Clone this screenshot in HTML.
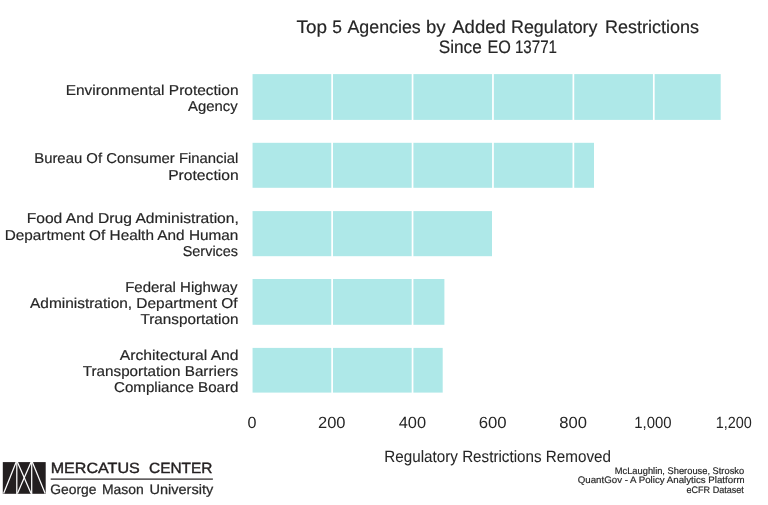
<!DOCTYPE html>
<html lang="en"><head><meta charset="utf-8"><title>Top 5 Agencies by Added Regulatory Restrictions Since EO 13771</title>
<style>
html,body{margin:0;padding:0;background:#fff;}
body{width:768px;height:505px;overflow:hidden;}
svg{display:block;}
text{font-family:"Liberation Sans", sans-serif;fill:#262626;stroke:#262626;stroke-width:0.18px;text-rendering:geometricPrecision;}
</style></head><body>
<svg width="768" height="505" viewBox="0 0 768 505">
<rect width="768" height="505" fill="#ffffff"/>
<rect x="251.7" y="74.1" width="469.0" height="45.8" fill="#aee8e8"/>
<rect x="251.7" y="142.8" width="342.3" height="45.0" fill="#aee8e8"/>
<rect x="251.7" y="211.1" width="240.3" height="45.1" fill="#aee8e8"/>
<rect x="251.7" y="279.0" width="192.7" height="45.8" fill="#aee8e8"/>
<rect x="251.7" y="347.9" width="191.0" height="44.7" fill="#aee8e8"/>
<rect x="250.85" y="60" width="1.7" height="345" fill="#ffffff"/>
<rect x="331.27" y="60" width="1.7" height="345" fill="#ffffff"/>
<rect x="411.69" y="60" width="1.7" height="345" fill="#ffffff"/>
<rect x="492.11" y="60" width="1.7" height="345" fill="#ffffff"/>
<rect x="572.53" y="60" width="1.7" height="345" fill="#ffffff"/>
<rect x="652.95" y="60" width="1.7" height="345" fill="#ffffff"/>
<rect x="733.37" y="60" width="1.7" height="345" fill="#ffffff"/>
<text y="32.9" font-size="18"><tspan x="296.49" textLength="30.54" lengthAdjust="spacingAndGlyphs">Top</tspan> <tspan x="332.17" textLength="9.68" lengthAdjust="spacingAndGlyphs">5</tspan> <tspan x="347.50" textLength="73.25" lengthAdjust="spacingAndGlyphs">Agencies</tspan> <tspan x="425.94" textLength="19.56" lengthAdjust="spacingAndGlyphs">by</tspan> <tspan x="452.25" textLength="53.52" lengthAdjust="spacingAndGlyphs">Added</tspan> <tspan x="510.98" textLength="86.52" lengthAdjust="spacingAndGlyphs">Regulatory</tspan> <tspan x="604.98" textLength="94.03" lengthAdjust="spacingAndGlyphs">Restrictions</tspan></text>
<text y="52.6" font-size="18"><tspan x="438.73" textLength="43.04" lengthAdjust="spacingAndGlyphs">Since</tspan> <tspan x="487.41" textLength="23.41" lengthAdjust="spacingAndGlyphs">EO</tspan> <tspan x="514.96" textLength="42.07" lengthAdjust="spacingAndGlyphs">13771</tspan></text>
<text transform="translate(65.65 94.6) scale(1.0821 1)" font-size="14.3">Environmental Protection</text>
<text transform="translate(188.00 110.8) scale(1.0398 1)" font-size="14.3">Agency</text>
<text transform="translate(34.21 163.2) scale(1.0404 1)" font-size="14.3">Bureau Of Consumer Financial</text>
<text transform="translate(168.14 179.5) scale(1.0952 1)" font-size="14.3">Protection</text>
<text transform="translate(26.65 223.4) scale(1.0944 1)" font-size="14.3">Food And Drug Administration,</text>
<text transform="translate(4.67 239.5) scale(1.0732 1)" font-size="14.3">Department Of Health And Human</text>
<text transform="translate(182.74 255.7) scale(1.0084 1)" font-size="14.3">Services</text>
<text transform="translate(125.19 291.9) scale(1.0467 1)" font-size="14.3">Federal Highway</text>
<text transform="translate(30.01 308.1) scale(1.0795 1)" font-size="14.3">Administration, Department Of</text>
<text transform="translate(140.49 324.2) scale(1.0689 1)" font-size="14.3">Transportation</text>
<text transform="translate(119.75 359.9) scale(1.0998 1)" font-size="14.3">Architectural And</text>
<text transform="translate(82.73 376.2) scale(1.0666 1)" font-size="14.3">Transportation Barriers</text>
<text transform="translate(113.96 392.3) scale(1.0581 1)" font-size="14.3">Compliance Board</text>
<text transform="translate(247.50 427.9) scale(0.9940 1)" font-size="16.2" style="stroke-width:0">0</text>
<text transform="translate(317.98 427.9) scale(1.0197 1)" font-size="16.2" style="stroke-width:0">200</text>
<text transform="translate(398.74 427.9) scale(1.0135 1)" font-size="16.2" style="stroke-width:0">400</text>
<text transform="translate(478.72 427.9) scale(1.0334 1)" font-size="16.2" style="stroke-width:0">600</text>
<text transform="translate(559.24 427.9) scale(1.0233 1)" font-size="16.2" style="stroke-width:0">800</text>
<text transform="translate(634.34 427.9) scale(0.9200 1)" font-size="16.2" style="stroke-width:0">1,000</text>
<text transform="translate(715.64 427.9) scale(0.8897 1)" font-size="16.2" style="stroke-width:0">1,200</text>
<text transform="translate(384.35 461.6) scale(0.9280 1)" font-size="16.4" style="stroke-width:0.06px">Regulatory Restrictions Removed</text>
<text transform="translate(614.77 473.6) scale(0.9798 1)" font-size="9.5" stroke="#2b2b2b" stroke-width="0.2">McLaughlin, Sherouse, Strosko</text>
<text transform="translate(577.74 483.4) scale(1.0219 1)" font-size="9.5" stroke="#2b2b2b" stroke-width="0.2">QuantGov - A Policy Analytics Platform</text>
<text transform="translate(686.51 493.2) scale(0.9525 1)" font-size="9.5" stroke="#2b2b2b" stroke-width="0.2">eCFR Dataset</text>
<text y="473.4" font-size="14.8" style="fill:#231f20;stroke:#231f20;stroke-width:0.4px"><tspan x="50.73" textLength="89.03" lengthAdjust="spacingAndGlyphs">MERCATUS</tspan> <tspan x="148.99" textLength="63.52" lengthAdjust="spacingAndGlyphs">CENTER</tspan></text>
<text y="493.5" font-size="13.7" style="fill:#2a2a2a;stroke:#2a2a2a;stroke-width:0.25px"><tspan x="50.24" textLength="46.27" lengthAdjust="spacingAndGlyphs">George</tspan> <tspan x="101.96" textLength="41.82" lengthAdjust="spacingAndGlyphs">Mason</tspan> <tspan x="149.48" textLength="63.77" lengthAdjust="spacingAndGlyphs">University</tspan></text>
<g>
<rect x="2.8" y="462.1" width="42.9" height="31.7" fill="#231f20"/>
<g stroke="#ffffff" stroke-width="1.25" fill="none">
<line x1="16.8" y1="461" x2="16.8" y2="495"/>
<line x1="31.7" y1="461" x2="31.7" y2="495"/>
<line x1="3.6" y1="493.5" x2="16.2" y2="462.1"/>
<line x1="17.4" y1="462.1" x2="31.1" y2="493.5"/>
<line x1="17.4" y1="493.5" x2="31.1" y2="462.1"/>
<line x1="32.3" y1="462.1" x2="45.2" y2="493.5"/>
</g></g>
<rect x="50.7" y="478.5" width="162.2" height="1.2" fill="#231f20"/>
</svg></body></html>
